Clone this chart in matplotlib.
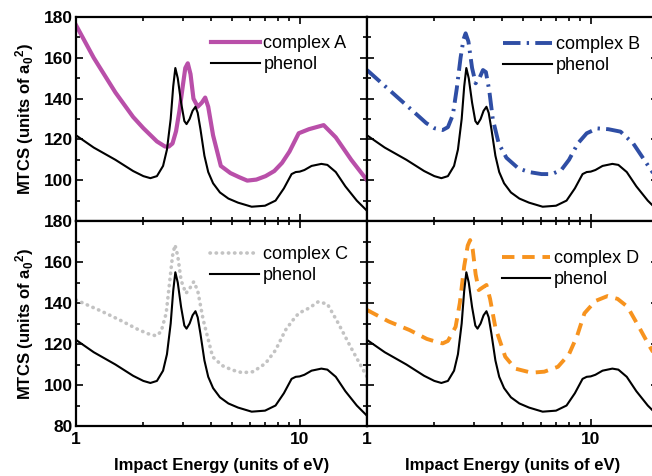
import matplotlib
matplotlib.use("Agg")
import matplotlib.pyplot as plt
from matplotlib.ticker import LogLocator, NullFormatter, FixedLocator, MultipleLocator

plt.rcParams['font.family'] = ['Liberation Sans', 'DejaVu Sans']
plt.rcParams['mathtext.fontset'] = 'custom'
plt.rcParams['mathtext.rm'] = 'Liberation Sans:bold'
plt.rcParams['mathtext.it'] = 'Liberation Sans:bold'
plt.rcParams['mathtext.bf'] = 'Liberation Sans:bold'

# phenol (same curve in every panel)
E_ph = [1.0, 1.2, 1.5, 1.8, 2.0, 2.15, 2.3, 2.45, 2.55, 2.65, 2.72, 2.78, 2.85, 2.95, 3.05, 3.12,
        3.22, 3.32, 3.42, 3.5, 3.6, 3.75, 3.9, 4.1, 4.4, 4.8, 5.3, 6.1, 7.0, 7.8, 8.5, 9.2, 9.6,
        10.0, 10.5, 11.3, 12.5, 13.3, 14.5, 16.0, 18.0, 20.0]
v_ph = [122, 116, 110, 104.5, 102, 101, 102, 107, 115, 130, 146, 155, 150, 138, 129, 127.5,
        130, 134, 136, 133, 125, 112, 104, 98.5, 94, 91, 89, 87, 87.5, 90, 96, 103, 104,
        104.2, 105, 107, 108, 107.5, 104, 97, 90, 85]

E_A = [1.0, 1.2, 1.5, 1.8, 2.0, 2.3, 2.5, 2.6, 2.7, 2.8, 2.9, 3.0, 3.08, 3.16, 3.25, 3.35, 3.5,
       3.65, 3.78, 3.9, 4.1, 4.44, 4.9, 5.36, 5.83, 6.4, 7.04, 7.7, 8.34, 9.0, 9.9, 11.0, 12.8,
       14.5, 17.0, 20.0]
v_A = [176, 160, 143, 131, 125.5, 119, 116.5, 116.5, 118, 124, 134, 146, 155, 157.3, 152, 140, 136,
       138, 140.5, 136, 122, 107, 103.5, 101.5, 99.8, 100.3, 102, 104.5, 108.5, 114, 123, 125, 127,
       121, 110, 100]

E_B = [1.0, 1.31, 1.6, 1.84, 2.0, 2.18, 2.3, 2.42, 2.52, 2.62, 2.7, 2.76, 2.84, 2.95, 3.06, 3.18,
       3.3, 3.4, 3.52, 3.65, 3.88, 4.2, 4.75, 5.3, 6.03, 6.7, 7.39, 8.0, 8.76, 9.6, 10.7, 12.0,
       13.6, 15.5, 18.2, 20.0]
v_B = [154, 142.5, 134, 128, 125.5, 124.6, 126, 132, 145, 160, 169, 172, 168, 155, 147.5, 150,
       154, 153, 144, 130, 118, 111, 105.8, 104, 103, 103, 105, 110, 118, 123, 125.4, 125,
       123.8, 118, 106.6, 100]

E_C = [1.0, 1.3, 1.57, 1.9, 2.1, 2.28, 2.4, 2.53, 2.62, 2.7, 2.77, 2.85, 2.95, 3.1, 3.22, 3.36,
       3.5, 3.7, 4.08, 4.5, 5.0, 5.54, 6.2, 7.04, 7.8, 8.64, 9.3, 9.9, 11.0, 12.1, 13.3, 14.9,
       17.0, 19.6, 20.0]
v_C = [141.5, 136, 131.7, 127, 125, 124, 126, 135, 150, 163, 168.3, 163, 151, 144.7, 147, 150.4,
       146, 132, 113.8, 109.5, 107.3, 106, 106.5, 110.6, 117, 126.8, 131.5, 135, 137.5, 140.6, 139.5, 130,
       118, 105.7, 104]

E_D = [1.0, 1.25, 1.55, 1.85, 2.05, 2.18, 2.3, 2.49, 2.6, 2.72, 2.82, 2.89, 2.97, 3.06, 3.16, 3.28,
       3.42, 3.55, 3.75, 4.15, 4.6, 5.44, 6.2, 7.14, 8.0, 8.7, 9.38, 10.5, 11.9, 13.2, 14.6, 16.5,
       18.2, 20.0]
v_D = [136.6, 131, 126.8, 122.5, 121, 120.3, 121.5, 128.4, 140, 158, 168, 170.7, 166, 154, 146.3, 147.5,
       148.8, 142, 128, 113.8, 108, 106, 106.5, 108.9, 115, 124, 135, 141, 143.4, 142, 138.2, 128,
       119.5, 112]

fig = plt.figure(figsize=(6.52, 4.76), dpi=100)
L, M, W = 0.1166, 0.5629, 0.4463
axA = fig.add_axes([L, 0.5357, W, 0.4286])
axB = fig.add_axes([M, 0.5357, W, 0.4286])
axC = fig.add_axes([L, 0.105, W, 0.4307])
axD = fig.add_axes([M, 0.105, W, 0.4307])

# axes, x, y, name, style, legend anchor
panels = [
    (axA, E_A, v_A, 'complex A', dict(color='#b94fa9', lw=3.0, ls='-'), (0.433, 0.955)),
    (axB, E_B, v_B, 'complex B', dict(color='#2f4ea5', lw=2.8, dashes=(4.5, 1.6, 0.6, 1.6)), (0.437, 0.95)),
    (axC, E_C, v_C, 'complex C', dict(color='#c3c3c3', lw=2.6, dashes=(0.1, 1.6), dash_capstyle='round'), (0.43, 0.922)),
    (axD, E_D, v_D, 'complex D', dict(color='#f7931e', lw=2.8, dashes=(3.2, 2.0)), (0.432, 0.902)),
]

for ax, E, v, name, style, anchor in panels:
    ax.plot(E, v, label=name, **style)
    ax.plot(E_ph, v_ph, color='black', lw=1.5, label='phenol')
    ax.set_xscale('log')
    ax.set_xlim(1, 20)
    ax.set_ylim(80, 180)
    ax.xaxis.set_major_locator(FixedLocator([1, 10]))
    ax.xaxis.set_minor_locator(LogLocator(base=10, subs=range(2, 10)))
    ax.xaxis.set_minor_formatter(NullFormatter())
    ax.set_xticklabels(['1', '10'])
    ax.yaxis.set_major_locator(MultipleLocator(20))
    ax.yaxis.set_minor_locator(MultipleLocator(10))
    ax.tick_params(which='both', direction='in', top=True, right=True, width=1.2,
                   labelsize=12.5)
    ax.tick_params(axis='y', pad=2)
    ax.tick_params(axis='x', pad=4)
    ax.tick_params(which='major', length=5)
    ax.tick_params(which='minor', length=3)
    for lab in ax.get_xticklabels() + ax.get_yticklabels():
        lab.set_fontweight('bold')
    for sp in ax.spines.values():
        sp.set_linewidth(1.6)
    ax.legend(loc='upper left', bbox_to_anchor=anchor, frameon=False, fontsize=13,
              handlelength=2.7, handletextpad=0.2, labelspacing=0.22, borderpad=0)

for ax in (axA, axB):
    ax.tick_params(labelbottom=False)
for ax in (axB, axD):
    ax.tick_params(labelleft=False)

# top panel: hide the 80 label so the 180 of the lower panel shows
axA.set_yticks([80, 100, 120, 140, 160, 180])
axA.set_yticklabels(['', '100', '120', '140', '160', '180'], fontweight='bold')

ylab = 'MTCS (units of a$_0$$^2$)'
for ax in (axA, axC):
    ax.set_ylabel(ylab, fontsize=12, fontweight='bold', labelpad=6)
for ax in (axC, axD):
    ax.set_xlabel('Impact Energy (units of eV)', fontsize=12, fontweight='bold', labelpad=8)

fig.savefig('out.png', dpi=100)
